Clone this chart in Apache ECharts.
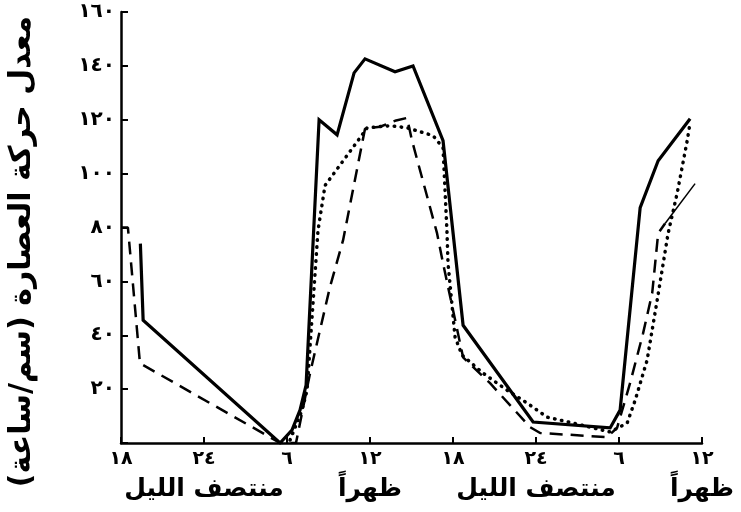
<!DOCTYPE html>
<html>
<head>
<meta charset="utf-8">
<script src="https://cdn.jsdelivr.net/npm/echarts@6/dist/echarts.min.js"></script>
<style>
html,body{margin:0;padding:0;background:#fff;}
#c{width:741px;height:512px;}
</style>
</head>
<body>
<div id="c"></div>
<script>
// Hours measured from 18:00 of the first day (18 .. 60)
var solidHours  = [19.4, 19.6, 29.5, 30.36, 30.94, 31.38, 32.32, 33.62, 34.85, 35.64, 37.81, 39.11, 41.28, 42.73, 47.79, 53.36, 54.08, 55.53, 56.83, 59.14];
var solidValues = [74, 45.6, 0, 4.8, 12.2, 21.5, 120, 114.4, 137.4, 142.6, 137.8, 140, 112.2, 43.7, 7.8, 5.6, 12.2, 87.4, 104.8, 120.4];

var dashedHours  = [18, 18.5, 19.37, 29.5, 30.65, 31.67, 33.1, 34.05, 35.64, 36.73, 37.81, 38.68, 39.04, 40.85, 41.28, 42.73, 44.68, 47.57, 48.3, 53.14, 53.86, 54.8, 55.74, 56.4, 56.83, 57.33];
var dashedValues = [80, 80, 29.6, 0, 0, 26, 57.8, 75.2, 116.7, 117.4, 119.6, 120.7, 112.2, 77.8, 66.7, 31.8, 22.2, 5.9, 3.7, 2.2, 5.6, 22.2, 40.7, 55.6, 77.8, 81.5];

var thinHours  = [57.33, 59.5];
var thinValues = [81.5, 96.3];

var dottedHours  = [30.22, 31.09, 31.45, 32.24, 32.75, 35.28, 35.79, 37.45, 38.68, 40.56, 41.28, 41.57, 41.64, 42.15, 42.66, 44.18, 45.91, 47.36, 48.8, 50.68, 53.36, 54.59, 55.17, 56.03, 56.76, 57.55, 58.2, 58.93, 59.14];
var dottedValues = [1.1, 12.2, 19.6, 78.9, 95.6, 113.3, 117, 117.8, 117, 114.1, 109.6, 77.8, 66.7, 39.3, 32.6, 25.9, 19.6, 14.8, 9.6, 7.4, 4.1, 7.4, 15.9, 30.7, 53, 77.8, 92.6, 112.2, 118.9];

var xTickValues = [18, 24, 30, 36, 42, 48, 54, 60];
var xTickLabels = ['١٨', '٢٤', '٦', '١٢', '١٨', '٢٤', '٦', '١٢'];
var xSubLabels  = ['', 'منتصف الليل', '', 'ظهراً', '', 'منتصف الليل', '', 'ظهراً'];
var yTickValues = [20, 40, 60, 80, 100, 120, 140, 160];
var yTickLabels = ['٢٠', '٤٠', '٦٠', '٨٠', '١٠٠', '١٢٠', '١٤٠', '١٦٠'];
var yTitle = 'معدل حركة العصارة (سم/ساعة)';

function zip(a, b) { return a.map(function (v, i) { return [v, b[i]]; }); }

var font = 'DejaVu Sans';
var chart = echarts.init(document.getElementById('c'), null, {renderer: 'canvas'});
chart.setOption({
  animation: false,
  backgroundColor: '#fff',
  grid: {left: 121, right: 39, top: 12, bottom: 69, containLabel: false, outerBoundsMode: 'none'},
  xAxis: [{
    type: 'value', min: 18, max: 60, interval: 6,
    splitLine: {show: false},
    axisLine: {lineStyle: {color: '#000', width: 2.5}},
    axisTick: {inside: true, length: 6, lineStyle: {color: '#000', width: 2}},
    axisLabel: {
      margin: 7, showMinLabel: true, showMaxLabel: true, hideOverlap: false,
      fontFamily: font, fontSize: 19, color: '#000', fontWeight: 'bold',
      formatter: function (v) {
        var i = xTickValues.indexOf(v);
        return i < 0 ? '' : xTickLabels[i];
      }
    }
  }, {
    type: 'value', min: 18, max: 60, interval: 6, position: 'bottom',
    splitLine: {show: false}, axisLine: {show: false}, axisTick: {show: false},
    axisLabel: {
      margin: 34, showMinLabel: true, showMaxLabel: true, hideOverlap: false,
      fontFamily: font, fontSize: 25, color: '#000', fontWeight: 'bold',
      formatter: function (v) {
        var i = xTickValues.indexOf(v);
        return i < 0 ? '' : xSubLabels[i];
      }
    }
  }],
  yAxis: {
    type: 'value', min: 0, max: 160, interval: 20,
    splitLine: {show: false},
    name: yTitle, nameLocation: 'middle', nameRotate: 90, nameGap: 84,
    nameTextStyle: {fontFamily: font, fontSize: 30, fontWeight: 'bold', color: '#000', padding: [0, 48, 0, 0]},
    axisLine: {show: true, lineStyle: {color: '#000', width: 2.5}},
    axisTick: {show: true, inside: true, length: 7, lineStyle: {color: '#000', width: 2}},
    axisLabel: {
      margin: 6, fontFamily: font, fontSize: 20, fontWeight: 'bold', color: '#000',
      showMinLabel: true, showMaxLabel: true,
      formatter: function (v) {
        var i = yTickValues.indexOf(v);
        return i < 0 ? '' : yTickLabels[i];
      }
    }
  },
  series: [
    {type: 'line', name: 'solid', data: zip(solidHours, solidValues), showSymbol: false,
     lineStyle: {color: '#000', width: 3.2, join: 'miter'}},
    {type: 'line', name: 'dashed', data: zip(dashedHours, dashedValues), showSymbol: false,
     lineStyle: {color: '#000', width: 2.5, type: [13, 8]}},
    {type: 'line', name: 'thin', data: zip(thinHours, thinValues), showSymbol: false,
     lineStyle: {color: '#000', width: 1.5}},
    {type: 'line', name: 'dotted', data: zip(dottedHours, dottedValues), showSymbol: false,
     lineStyle: {color: '#000', width: 3.5, type: [0.5, 6.5], cap: 'round'}}
  ]
});
</script>
</body>
</html>
